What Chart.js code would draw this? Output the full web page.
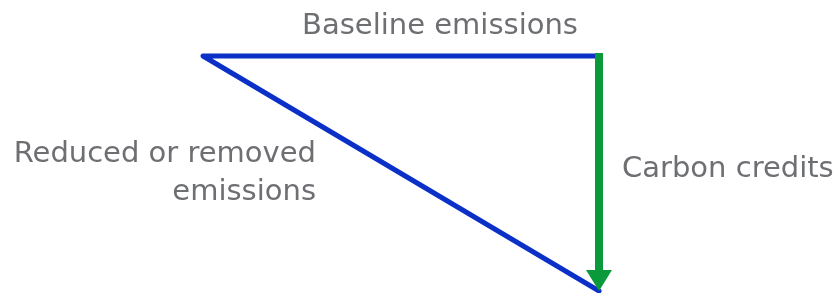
<!DOCTYPE html>
<html>
<head>
<meta charset="utf-8">
<script src="https://cdn.jsdelivr.net/npm/chart.js@4"></script>
<style>
  html, body { margin: 0; padding: 0; background: #fff; }
  #wrap { width: 838px; height: 293px; }
</style>
</head>
<body>
<div id="wrap"><canvas id="diagram" width="838" height="293"></canvas></div>
<script>
// Triangle: baseline (top), reduced emissions (diagonal), carbon credits (arrow)
const reducedX = [1, 0, 1];
const reducedY = [1, 1, 0];
const creditsX = [1, 1];
const creditsY = [1, 0];
const labels = ['Baseline emissions', 'Reduced or removed', 'emissions', 'Carbon credits'];

const textColor = '#6e6f72';
const font = '29px "DejaVu Sans", sans-serif';

// Draw the green arrow and the text labels on top of the lines
const arrowAndLabels = {
    id: 'arrowAndLabels',
    afterDatasetsDraw(chart) {
        const ctx = chart.ctx;
        const x = chart.scales.x;
        const y = chart.scales.y;
        const pts = chart.getDatasetMeta(1).data;
        const top = pts[0], tip = pts[1];
        const headLen = 21, headW = 13;

        ctx.save();
        ctx.strokeStyle = '#0a9a3c';
        ctx.fillStyle = '#0a9a3c';
        ctx.lineWidth = 8;
        ctx.beginPath();
        ctx.moveTo(top.x, top.y - 3);
        ctx.lineTo(tip.x, tip.y - headLen + 1);
        ctx.stroke();
        ctx.beginPath();
        ctx.moveTo(tip.x - headW, tip.y - headLen);
        ctx.lineTo(tip.x + headW, tip.y - headLen);
        ctx.lineTo(tip.x, tip.y);
        ctx.closePath();
        ctx.fill();

        ctx.fillStyle = textColor;
        ctx.font = font;
        ctx.textBaseline = 'alphabetic';
        // above the baseline
        ctx.textAlign = 'center';
        ctx.fillText(labels[0], (x.getPixelForValue(0) + x.getPixelForValue(1)) / 2 + 39, y.getPixelForValue(1) - 22);
        // left of the diagonal
        ctx.textAlign = 'right';
        ctx.fillText(labels[1], x.getPixelForValue(0) + 113, y.getPixelForValue(0.548));
        ctx.fillText(labels[2], x.getPixelForValue(0) + 113, y.getPixelForValue(0.387));
        // right of the arrow
        ctx.textAlign = 'left';
        ctx.fillText(labels[3], x.getPixelForValue(1) + 23, y.getPixelForValue(0.485));
        ctx.restore();
    }
};

const ctxDiagram = document.getElementById('diagram').getContext('2d');
const diagram = new Chart(ctxDiagram, {
    type: 'scatter',
    data: {
        datasets: [{
            label: 'Reduced or removed emissions',
            data: reducedX.map((v, i) => ({ x: v, y: reducedY[i] })),
            showLine: true,
            borderColor: '#0b30c8',
            borderWidth: 5,
            borderJoinStyle: 'round',
            borderCapStyle: 'round',
            pointRadius: 0,
            clip: false
        }, {
            label: 'Carbon credits',
            data: creditsX.map((v, i) => ({ x: v, y: creditsY[i] })),
            showLine: false,
            pointRadius: 0,
            clip: false
        }]
    },
    options: {
        responsive: false,
        animation: false,
        layout: { padding: 0 },
        scales: {
            x: { type: 'linear', display: false, min: -0.5126, max: 1.6035 },
            y: { type: 'linear', display: false, min: -0.0085, max: 1.2383 }
        },
        plugins: {
            legend: { display: false },
            tooltip: { enabled: false }
        }
    },
    plugins: [arrowAndLabels]
});
</script>
</body>
</html>
